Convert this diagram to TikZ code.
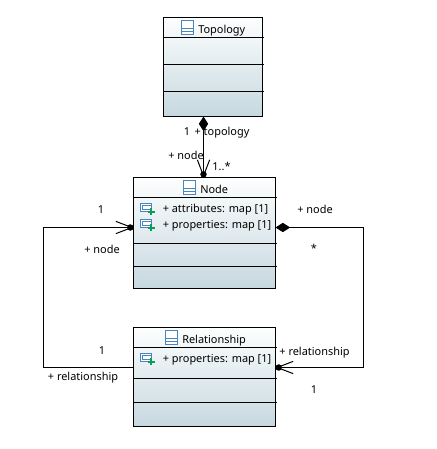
\documentclass[tikz,border=0pt]{standalone}
\usepackage{fontspec}
\setmainfont{Noto Sans}
\usetikzlibrary{positioning, arrows.meta}
\definecolor{boxtop}{HTML}{FDFEFE}
\definecolor{boxbot}{HTML}{C6D8DF}
\definecolor{iconblue}{HTML}{4A86BE}
\definecolor{icongreen}{HTML}{0E9A5E}

\begin{document}
\begin{tikzpicture}[
      x=0.75pt, y=-0.75pt,
      classbox/.style={draw, line width=0.75pt, top color=boxtop, bottom color=boxbot,
          inner sep=0pt, outer sep=0pt},
      compline/.style={line width=0.75pt},
      lab/.style={font=\fontsize{8.2}{10}\selectfont, inner sep=0pt, anchor=base},
      link/.style={line width=0.75pt},
      hollow/.style={-{Straight Barb[length=12pt, width=9.2pt, sep=-4.6pt, line width=0.75pt]Circle[length=4.8pt]}},
      comphollow/.style={{Diamond[length=11pt, width=7pt]}-{Straight Barb[length=12pt, width=9.2pt, sep=-4.6pt, line width=0.75pt]Circle[length=4.8pt]}},
      classicon/.pic={
          \draw[iconblue, line width=0.75pt, fill=white] (-6,-7) rectangle (6,7);
          \draw[iconblue, line width=0.75pt] (-6,1) -- (6,1) (-6,4) -- (6,4);
        },
      attricon/.pic={
          \draw[iconblue, line width=0.75pt, fill=white] (-7.5,-5) rectangle (4,3);
          \draw[iconblue, line width=0.75pt, fill=white] (-5.5,-2.5) rectangle (4,1);
          \draw[icongreen, line width=1.5pt] (3.5,0) -- (3.5,7) (0,3.5) -- (7,3.5);
        },
    ]
    \useasboundingbox (0,0) rectangle (436,449);

    % Class boxes
    \node[classbox, minimum width=74.25pt, minimum height=74.25pt] (topology) at (213,67) {};
    \node[classbox, minimum width=106.5pt, minimum height=83.25pt] (node) at (204.5,233) {};
    \node[classbox, minimum width=106.5pt, minimum height=74.25pt] (relationship) at (204.5,377) {};

    % Compartment lines
    \foreach \cls/\y in {topology/37.5, topology/64.5, topology/91.5,
        node/197.5, node/243.5, node/266.5,
        relationship/347.5, relationship/378.5, relationship/402.5}{
        \draw[compline] (\cls.west |- 0,\y) -- ([xshift=0.75pt]\cls.east |- 0,\y);
      }

    % Titles
    \pic at (187,27.5) {classicon};
    \node[lab, anchor=base west] (topologyname) at (198,33.5) {Topology};
    \pic at (189.5,187.5) {classicon};
    \node[lab, anchor=base west] (nodename) at (200,193.5) {Node};
    \pic at (171.5,337.5) {classicon};
    \node[lab, anchor=base west] (relationshipname) at (182,343.5) {Relationship};

    % Attributes
    \foreach \y/\txt in {208/attributes, 224/properties, 358/properties}{
        \pic at (147.5,\y) {attricon};
        \node[lab, anchor=base west] at (162.5,\y+4.3) {+ \txt: map [1]};
      }

    % Connectors
    \coordinate (relleft) at ([yshift=-30pt]relationship.north west);
    \coordinate (nodeleft) at ([yshift=-37.5pt]node.north west);
    \coordinate (relright) at ([yshift=-30pt]relationship.north east);
    \coordinate (noderight) at ([yshift=-37.5pt]node.north east);
    \coordinate (leftbend) at (43.5,300);
    \coordinate (rightbend) at (363.5,300);
    \draw[link, comphollow] ([xshift=-0.75pt]node.north |- topology.south) -- ([xshift=-0.75pt]node.north);
    \draw[link, hollow] (relleft) -| (leftbend) |- (nodeleft);
    \draw[link, comphollow] (noderight) -| (rightbend) |- (relright);

    % Role names and multiplicities
    \node[lab] (toporole) at (222,135.5) {+ topology};
    \node[lab] (topomult) at (187,135.5) {1};
    \node[lab] (noderole) at (186,160) {+ node};
    \node[lab] (nodemult) at (221.5,170) {1..*};
    \node[lab] (leftmult) at (101,213.2) {1};
    \node[lab] (leftrole) at (102,253.4) {+ node};
    \node[lab] (rightrole) at (315,213.4) {+ node};
    \node[lab] (rightstar) at (314,252) {*};
    \node[lab] (relmult) at (102,354.5) {1};
    \node[lab] (relrole) at (83,380) {+ relationship};
    \node[lab] (relrightrole) at (314.5,355.7) {+ relationship};
    \node[lab] (relrightmult) at (314,393) {1};
  \end{tikzpicture}
\end{document}
